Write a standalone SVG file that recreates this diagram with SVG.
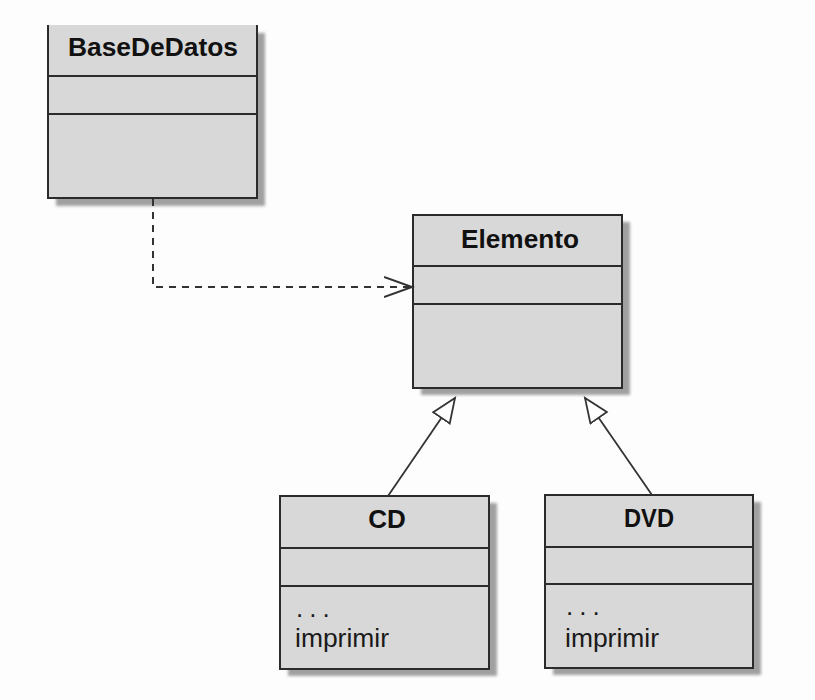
<svg xmlns="http://www.w3.org/2000/svg" width="815" height="700" viewBox="0 0 815 700">
  <defs>
    <filter id="soft" x="-10%" y="-10%" width="120%" height="120%">
      <feGaussianBlur stdDeviation="1.5"/>
    </filter>
    <marker id="open-arrow" markerUnits="userSpaceOnUse" markerWidth="32" markerHeight="26" refX="28" refY="11" orient="auto">
      <path d="M0,1 L28,11 L0,21" fill="none" stroke="#333" stroke-width="2"/>
    </marker>
    <marker id="hollow-tri" markerUnits="userSpaceOnUse" markerWidth="30" markerHeight="26" refX="25" refY="11" orient="auto">
      <path d="M1,1 L25,11 L1,21 Z" fill="#fff" stroke="#333" stroke-width="1.8" stroke-linejoin="miter"/>
    </marker>
  </defs>
  <style>
    .shadow { fill: #a0a0a0; filter: url(#soft); }
    .box { fill: #d8d8d8; stroke: #2b2b2b; stroke-width: 2; }
    .edge { fill: none; stroke: #2b2b2b; stroke-width: 2; }
    .div { stroke: #2b2b2b; stroke-width: 2; }
    .title { font-family: "Liberation Sans", Arial, sans-serif; font-weight: bold; font-size: 26px; fill: #111; text-anchor: middle; }
    .op { font-family: "Liberation Sans", Arial, sans-serif; font-size: 26px; fill: #1a1a1a; }
    .dash { fill: none; stroke: #333; stroke-width: 2; stroke-dasharray: 7 6; }
    .solid { fill: none; stroke: #333; stroke-width: 1.8; }
  </style>

  <rect width="815" height="700" fill="#fdfdfd"/>

  <g id="BaseDeDatos">
    <rect class="shadow" x="56" y="33" width="209" height="173"/>
    <rect x="48" y="25" width="209" height="173" fill="#d8d8d8"/>
    <path class="edge" d="M48,25 V198 H257 V25"/>
    <line class="div" x1="48" y1="76" x2="257" y2="76"/>
    <line class="div" x1="48" y1="114" x2="257" y2="114"/>
    <text class="title" x="153" y="56" textLength="170" lengthAdjust="spacingAndGlyphs">BaseDeDatos</text>
  </g>

  <g id="Elemento">
    <rect class="shadow" x="421" y="222" width="209" height="173"/>
    <rect class="box" x="413" y="215" width="209" height="173"/>
    <line class="div" x1="413" y1="266" x2="622" y2="266"/>
    <line class="div" x1="413" y1="304" x2="622" y2="304"/>
    <text class="title" x="520" y="248" textLength="118" lengthAdjust="spacingAndGlyphs">Elemento</text>
  </g>

  <g id="CD">
    <rect class="shadow" x="288" y="503" width="209" height="173"/>
    <rect class="box" x="280" y="496" width="209" height="173"/>
    <line class="div" x1="280" y1="548" x2="489" y2="548"/>
    <line class="div" x1="280" y1="586" x2="489" y2="586"/>
    <text class="title" x="387" y="528">CD</text>
    <text class="op" x="296" y="617" letter-spacing="6">...</text>
    <text class="op" x="295" y="647" textLength="94" lengthAdjust="spacingAndGlyphs">imprimir</text>
  </g>

  <g id="DVD">
    <rect class="shadow" x="553" y="502" width="208" height="173"/>
    <rect class="box" x="545" y="495" width="208" height="173"/>
    <line class="div" x1="545" y1="547" x2="753" y2="547"/>
    <line class="div" x1="545" y1="584" x2="753" y2="584"/>
    <text class="title" x="649" y="527" textLength="50" lengthAdjust="spacingAndGlyphs">DVD</text>
    <text class="op" x="566" y="615" letter-spacing="6">...</text>
    <text class="op" x="565" y="647" textLength="94" lengthAdjust="spacingAndGlyphs">imprimir</text>
  </g>

  <g id="connectors">
    <!-- dependency: BaseDeDatos uses Elemento -->
    <path class="dash" d="M153,199 V287 H412" marker-end="url(#open-arrow)"/>
    <!-- generalizations towards Elemento -->
    <path class="solid" d="M388,496 L455,398" marker-end="url(#hollow-tri)"/>
    <path class="solid" d="M652,495 L585,398" marker-end="url(#hollow-tri)"/>
  </g>
</svg>
